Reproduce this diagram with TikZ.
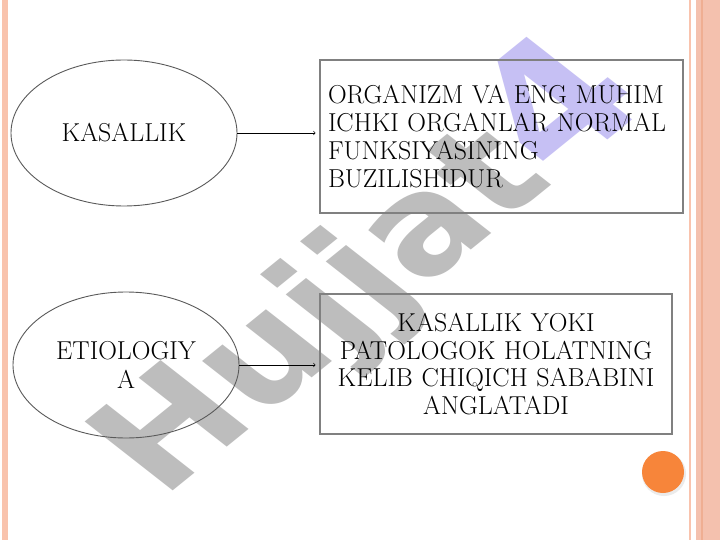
\documentclass[tikz,border=0pt]{standalone}
\usepackage{fontspec}
\newfontfamily\markfont{DejaVu Sans}
\usetikzlibrary{shapes.geometric}
\definecolor{ovalgray}{HTML}{5A5A5A}
\definecolor{boxgray}{HTML}{808080}
\definecolor{linepink}{HTML}{F9C3AD}
\definecolor{bandpink}{HTML}{F4C1AE}
\definecolor{bandline}{HTML}{EFAE92}
\definecolor{dotorange}{HTML}{F7853A}
\definecolor{markgray}{HTML}{BDBDBD}
\definecolor{markpurple}{HTML}{C6C0F4}
\tikzset{
  oval/.style={ellipse, draw=ovalgray, line width=0.9bp, inner sep=0pt,
    minimum width=226bp, minimum height=146bp, align=center,
    font=\fontsize{26}{30}\selectfont},
  defbox/.style={rectangle, draw=boxgray, line width=1.2bp, inner xsep=8bp,
    font=\fontsize{26}{28}\selectfont},
  link/.style={->, line width=0.6bp, shorten >=4bp}
}
\begin{document}
\begin{tikzpicture}[x=1bp, y=-1bp]
\useasboundingbox (0,0) rectangle (720,540);
\fill[white] (0,0) rectangle (720,540);
\fill[linepink] (2,0) rectangle (8,540);
\fill[bandpink] (696,0) rectangle (720,540);
\draw[linepink, line width=2bp] (690,0) -- (690,540);
\draw[bandline, line width=1.5bp] (702,0) -- (702,540);
\fill[black!8] (664,474) circle (22);
\fill[dotorange] (663,472) circle (21);

\node[rotate=39, xslant=-0.23, text=markgray, font=\markfont\bfseries\fontsize{150}{150}\selectfont] (mark) at (368,270) {Hujjat{\color{markpurple}\fontsize{180}{180}\selectfont 4}};

\node[oval] (kas) at (124,133) {KASALLIK};
\node[oval] (eti) at (126,365) {ETIOLOGIY\\A};

\node[defbox, text width=347bp, minimum height=153bp, align=left] (def1) at (501.5,136.5) {ORGANIZM VA ENG MUHIM\\ICHKI ORGANLAR NORMAL\\FUNKSIYASINING\\BUZILISHIDUR};
\node[defbox, text width=336bp, minimum height=140bp, align=center] (def2) at (496,364) {KASALLIK YOKI\\PATOLOGOK HOLATNING\\KELIB CHIQICH SABABINI\\ANGLATADI};

\draw[link] (kas.east) -- (kas.east -| def1.west);
\draw[link] (eti.east) -- (eti.east -| def2.west);
\end{tikzpicture}
\end{document}
